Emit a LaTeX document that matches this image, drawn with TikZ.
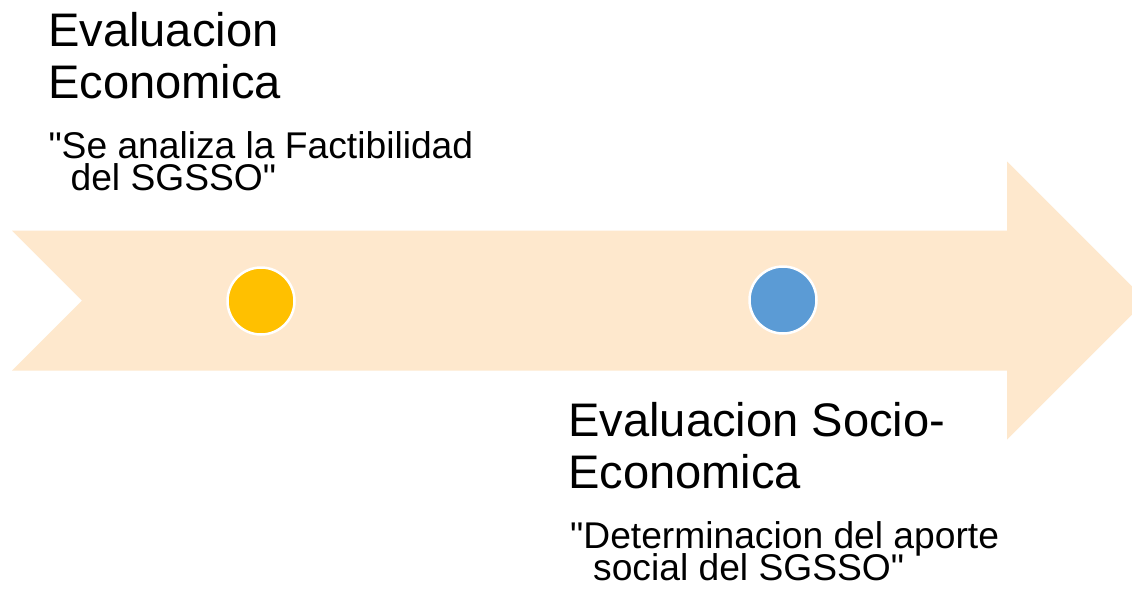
\documentclass[tikz,border=0pt]{standalone}
\usepackage{fontspec}
\setmainfont{Liberation Sans}[Ligatures=TeXOff]
\definecolor{arrowfill}{HTML}{FEE8CD}
\definecolor{dotyellow}{HTML}{FFC000}
\definecolor{dotblue}{HTML}{5B9BD5}
\begin{document}
\begin{tikzpicture}[x=1pt,y=-1pt,
  titletext/.style={anchor=base west,inner sep=0pt,font=\fontsize{47.1}{52}\selectfont},
  subtext/.style={anchor=base west,inner sep=0pt,font=\fontsize{37.2}{32}\selectfont},
  dot/.style={circle,draw=white,line width=2.5pt,minimum size=67pt,inner sep=0pt}]
\clip (0,0) rectangle (1132,590);
\fill[white] (0,0) rectangle (1132,590);
% timeline arrow
\fill[arrowfill] (12,230.5) -- (1007,230.5) -- (1007,161.5) -- (1146,300.5)
  -- (1007,439.5) -- (1007,370.5) -- (12,370.5) -- (82,300.5) -- cycle;
% milestones
\node[dot,fill=dotyellow] (m1) at (261,301) {};
\node[dot,fill=dotblue] (m2) at (783,300) {};
% texts first milestone
\node[titletext] (t1a) at (48,46.7) {Evaluacion};
\node[titletext] (t1b) at (48,98.3) {Economica};
\node[subtext] (s1a) at (48.3,158.3) {"Se analiza la Factibilidad};
\node[subtext] (s1b) at (70.4,190) {del SGSSO"};
% texts second milestone
\node[titletext] (t2a) at (568,436.7) {Evaluacion Socio-};
\node[titletext] (t2b) at (568,488) {Economica};
\node[subtext] (s2a) at (570,548.3) {"Determinacion del aporte};
\node[subtext] (s2b) at (593,580) {social del SGSSO"};
\end{tikzpicture}
\end{document}
